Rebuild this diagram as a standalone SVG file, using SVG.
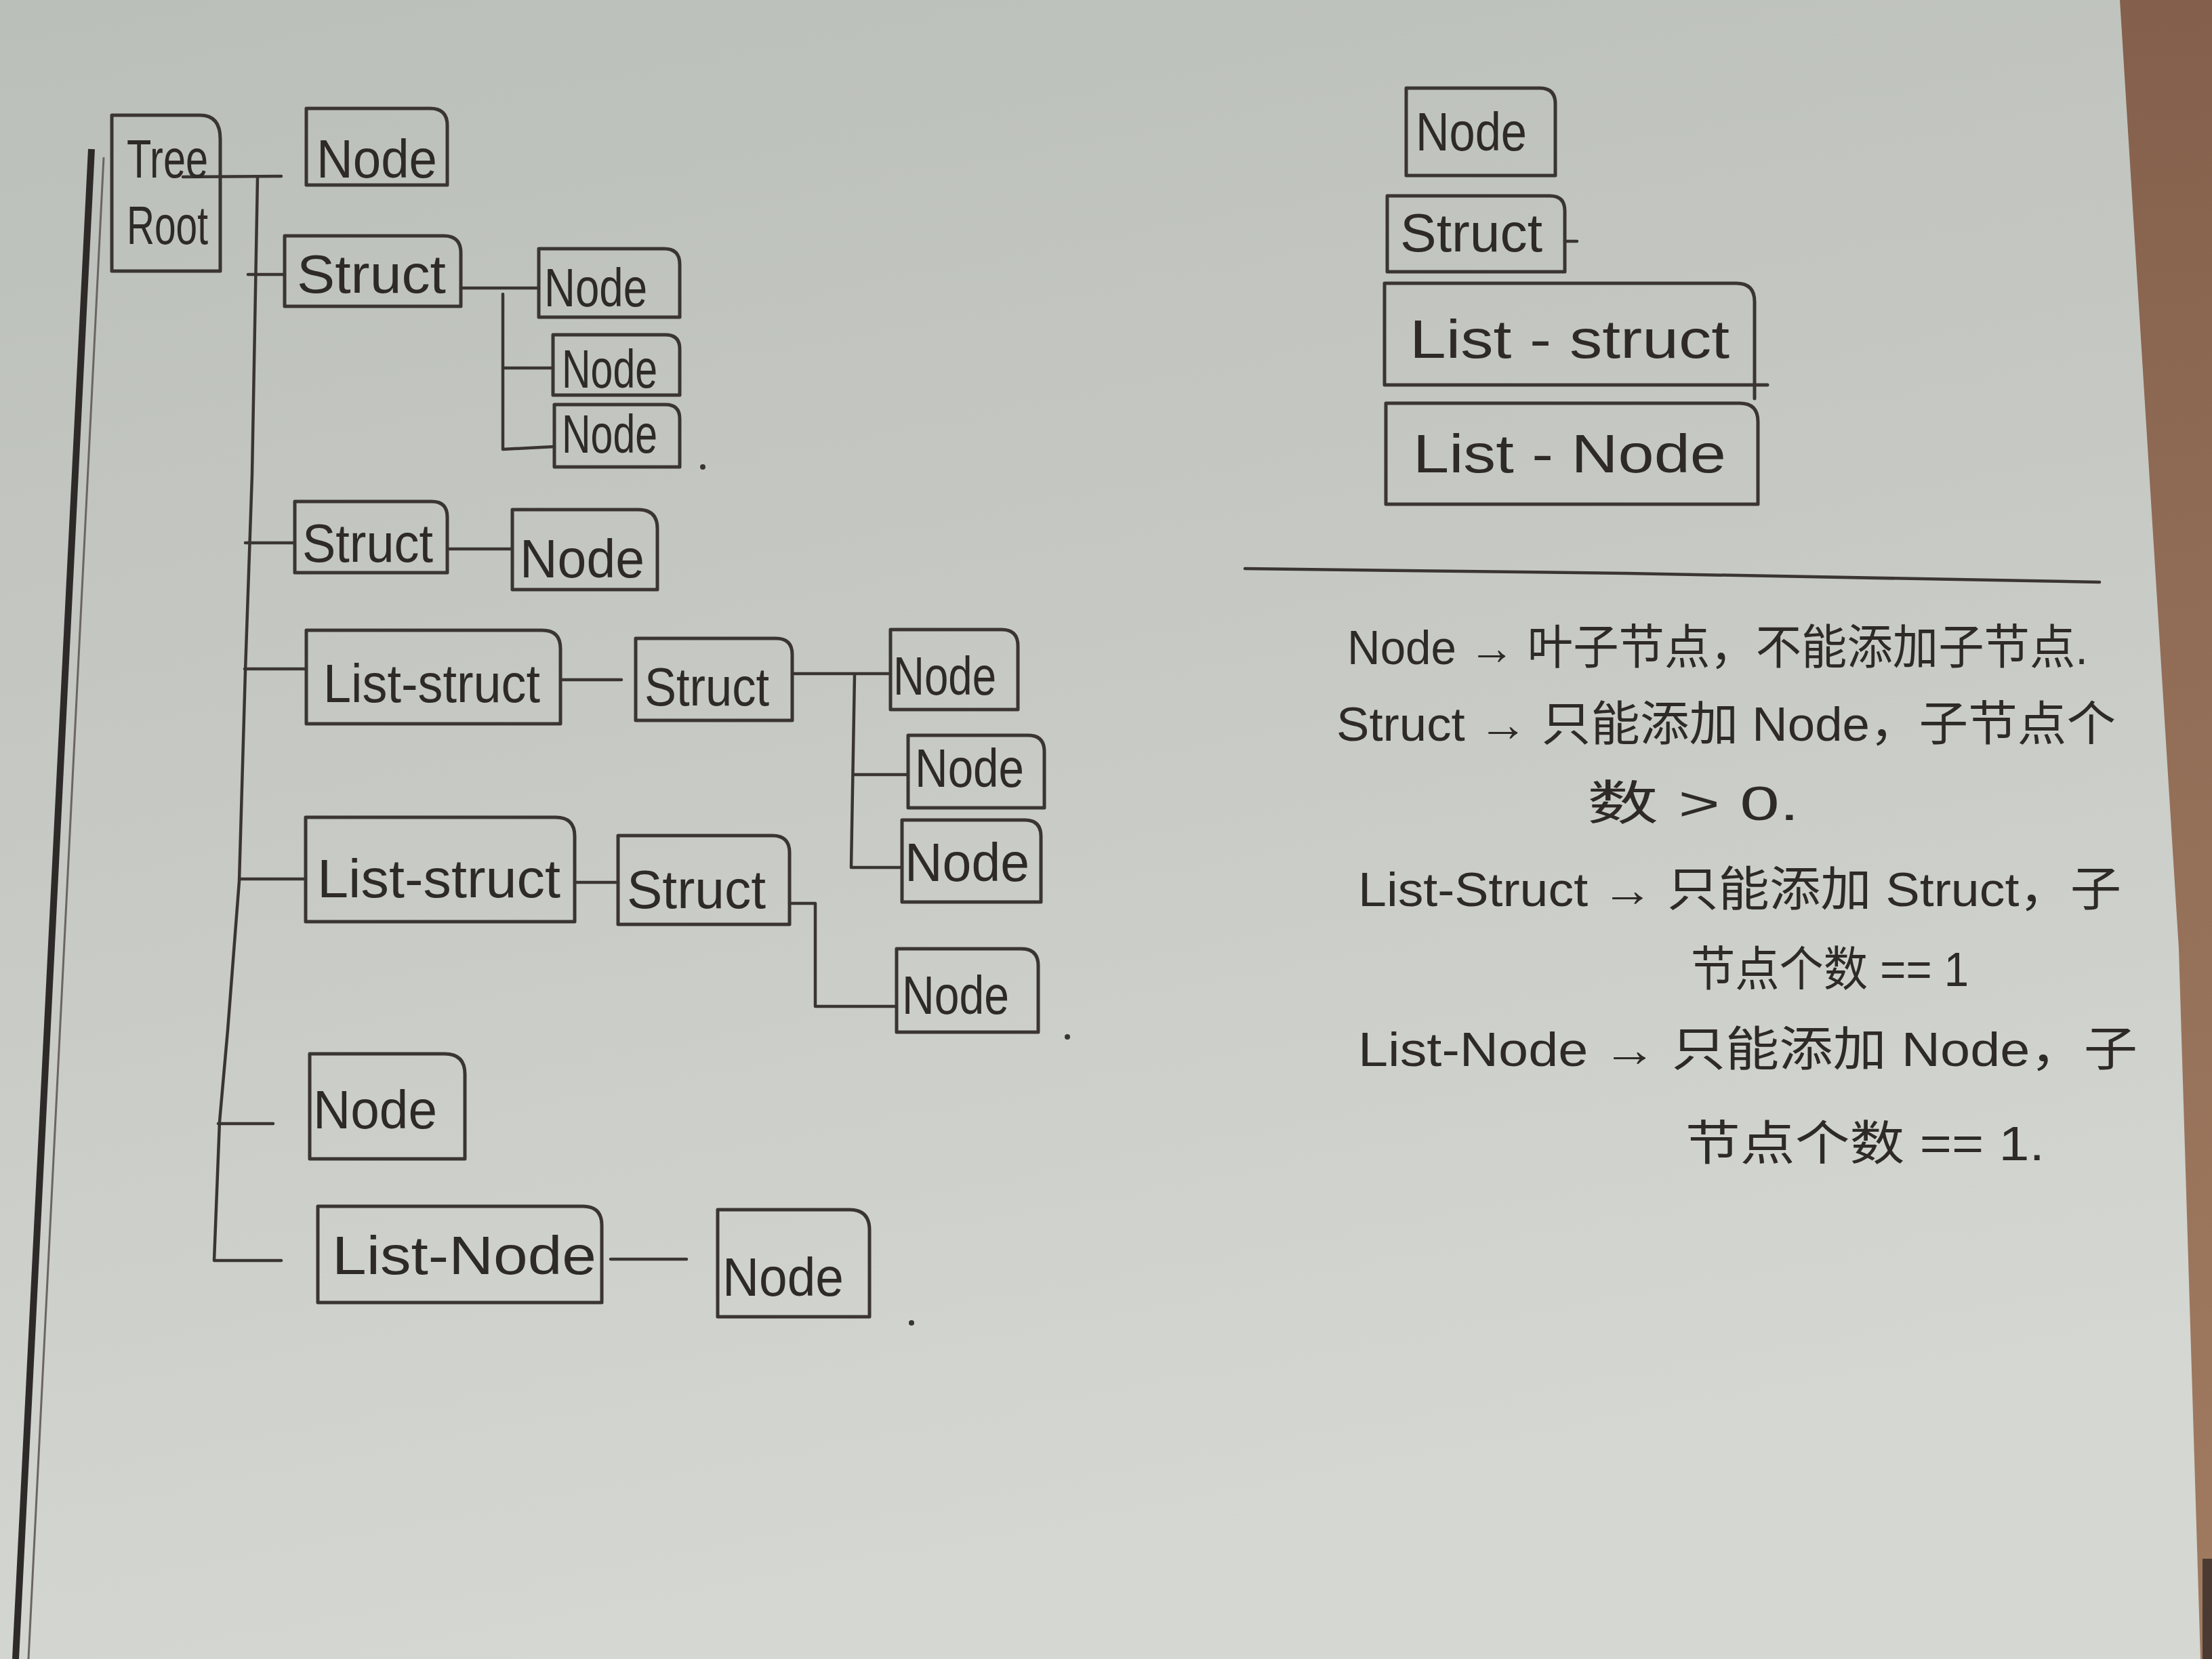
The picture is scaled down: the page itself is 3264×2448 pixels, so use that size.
<svg xmlns="http://www.w3.org/2000/svg" width="3264" height="2448" viewBox="0 0 3264 2448">
<defs>
<linearGradient id="paper" x1="0" y1="0" x2="0.25" y2="1">
<stop offset="0" stop-color="#bbbfb9"/>
<stop offset="0.5" stop-color="#c6c9c4"/>
<stop offset="1" stop-color="#d4d7d2"/>
</linearGradient>
<linearGradient id="wood" x1="0" y1="0" x2="0" y2="1">
<stop offset="0" stop-color="#84604c"/>
<stop offset="0.5" stop-color="#957059"/>
<stop offset="1" stop-color="#a07b60"/>
</linearGradient>
<style>
.box{fill:none;stroke:#3a3533;stroke-width:5;stroke-linejoin:round;stroke-linecap:round}
.con{fill:none;stroke:#3a3533;stroke-width:4.5;stroke-linecap:round;stroke-linejoin:round}
.lbl{font-family:"Liberation Sans","Noto Sans CJK SC",sans-serif;font-size:80px;fill:#2e2a28}
.note{font-family:"Liberation Sans","Noto Sans CJK SC",sans-serif;font-size:70px;fill:#2e2a28}
</style>
</defs>
<rect x="0" y="0" width="3264" height="2448" fill="url(#paper)"/>
<polygon points="3128,0 3264,0 3264,2448 3247,2448 3215,1400" fill="url(#wood)"/>
<rect x="3250" y="2300" width="14" height="148" fill="#4a3a32"/>
<g id="margin">
<line x1="135" y1="220" x2="23" y2="2448" stroke="#2f2a2a" stroke-width="10"/>
<line x1="153" y1="232" x2="42" y2="2448" stroke="#6a6462" stroke-width="3"/>
</g>
<g id="connectors">
<path class="con" d="M270 261 L415 260"/>
<path class="con" d="M380 262 L372 700 L362 990 L353 1300 L336 1520 L324 1655 L316 1860 L415 1860"/>
<path class="con" d="M366 405 L420 405"/>
<path class="con" d="M362 801 L433 801"/>
<path class="con" d="M361 987 L452 987"/>
<path class="con" d="M353 1297 L451 1297"/>
<path class="con" d="M322 1658 L403 1658"/>
<path class="con" d="M680 425 L795 425"/>
<path class="con" d="M742 434 L742 663 L818 659"/>
<path class="con" d="M742 543 L816 543"/>
<path class="con" d="M660 810 L756 810"/>
<path class="con" d="M827 1003 L917 1003"/>
<path class="con" d="M1169 994 L1314 994"/>
<path class="con" d="M1261 996 L1256 1280 L1331 1280"/>
<path class="con" d="M1261 1143 L1340 1143"/>
<path class="con" d="M848 1302 L912 1302"/>
<path class="con" d="M1165 1333 L1203 1333 L1203 1485 L1323 1485"/>
<path class="con" d="M901 1858 L1013 1858"/>
<path class="con" d="M2309 356 L2327 356"/>
<path class="con" d="M1837 839 L2400 846 L3098 859"/>
<circle cx="1037" cy="689" r="4" fill="#3a3533"/>
<circle cx="1575" cy="1530" r="4" fill="#3a3533"/>
<circle cx="1345" cy="1952" r="4" fill="#3a3533"/>
</g>
<g id="root">
<path class="box" d="M165 170 H295 Q325 170 325 205 V400 H165 Z"/>
<text class="lbl" x="187" y="262" textLength="120" lengthAdjust="spacingAndGlyphs" font-size="70">Tree</text>
<text class="lbl" x="187" y="360" textLength="120" lengthAdjust="spacingAndGlyphs" font-size="70">Root</text>
</g>
<g id="n1">
<path class="box" d="M452 160 H635 Q660 160 660 185 V273 H452 Z"/>
<text class="lbl" x="467" y="262" textLength="178" lengthAdjust="spacingAndGlyphs">Node</text>
</g>
<g id="s1">
<path class="box" d="M420 348 H655 Q680 348 680 373 V452 H420 Z"/>
<text class="lbl" x="438" y="432" textLength="220" lengthAdjust="spacingAndGlyphs">Struct</text>
</g>
<g id="n1a">
<path class="box" d="M795 367 H980 Q1003 367 1003 390 V468 H795 Z"/>
<text class="lbl" x="803" y="452" textLength="152" lengthAdjust="spacingAndGlyphs">Node</text>
</g>
<g id="n1b">
<path class="box" d="M816 494 H982 Q1003 494 1003 515 V583 H816 Z"/>
<text class="lbl" x="829" y="572" textLength="141" lengthAdjust="spacingAndGlyphs" font-size="72">Node</text>
</g>
<g id="n1c">
<path class="box" d="M818 597 H982 Q1003 597 1003 618 V689 H818 Z"/>
<text class="lbl" x="829" y="668" textLength="141" lengthAdjust="spacingAndGlyphs" font-size="72">Node</text>
</g>
<g id="s2">
<path class="box" d="M435 740 H637 Q660 740 660 763 V845 H435 Z"/>
<text class="lbl" x="446" y="829" textLength="193" lengthAdjust="spacingAndGlyphs">Struct</text>
</g>
<g id="n2">
<path class="box" d="M756 752 H942 Q970 752 970 780 V870 H756 Z"/>
<text class="lbl" x="767" y="852" textLength="184" lengthAdjust="spacingAndGlyphs" font-size="88">Node</text>
</g>
<g id="ls1">
<path class="box" d="M452 930 H800 Q827 930 827 957 V1068 H452 Z"/>
<text class="lbl" x="477" y="1036" textLength="320" lengthAdjust="spacingAndGlyphs">List-struct</text>
</g>
<g id="s3">
<path class="box" d="M938 942 H1145 Q1169 942 1169 966 V1063 H938 Z"/>
<text class="lbl" x="951" y="1041" textLength="184" lengthAdjust="spacingAndGlyphs">Struct</text>
</g>
<g id="n3a">
<path class="box" d="M1314 929 H1478 Q1502 929 1502 953 V1047 H1314 Z"/>
<text class="lbl" x="1318" y="1025" textLength="152" lengthAdjust="spacingAndGlyphs">Node</text>
</g>
<g id="n3b">
<path class="box" d="M1340 1085 H1517 Q1541 1085 1541 1109 V1192 H1340 Z"/>
<text class="lbl" x="1350" y="1161" textLength="161" lengthAdjust="spacingAndGlyphs">Node</text>
</g>
<g id="n3c">
<path class="box" d="M1331 1210 H1512 Q1536 1210 1536 1234 V1331 H1331 Z"/>
<text class="lbl" x="1335" y="1300" textLength="184" lengthAdjust="spacingAndGlyphs">Node</text>
</g>
<g id="ls2">
<path class="box" d="M451 1206 H820 Q848 1206 848 1234 V1360 H451 Z"/>
<text class="lbl" x="468" y="1324" textLength="359" lengthAdjust="spacingAndGlyphs" font-size="88">List-struct</text>
</g>
<g id="s4">
<path class="box" d="M912 1233 H1140 Q1165 1233 1165 1258 V1364 H912 Z"/>
<text class="lbl" x="925" y="1340" textLength="205" lengthAdjust="spacingAndGlyphs">Struct</text>
</g>
<g id="n4">
<path class="box" d="M1323 1400 H1507 Q1532 1400 1532 1425 V1523 H1323 Z"/>
<text class="lbl" x="1331" y="1496" textLength="158" lengthAdjust="spacingAndGlyphs">Node</text>
</g>
<g id="n5">
<path class="box" d="M457 1555 H656 Q686 1555 686 1585 V1710 H457 Z"/>
<text class="lbl" x="462" y="1665" textLength="183" lengthAdjust="spacingAndGlyphs" font-size="90">Node</text>
</g>
<g id="ln">
<path class="box" d="M469 1780 H860 Q888 1780 888 1808 V1922 H469 Z"/>
<text class="lbl" x="490" y="1880" textLength="390" lengthAdjust="spacingAndGlyphs" font-size="90">List-Node</text>
</g>
<g id="n6">
<path class="box" d="M1059 1785 H1253 Q1283 1785 1283 1815 V1943 H1059 Z"/>
<text class="lbl" x="1066" y="1912" textLength="179" lengthAdjust="spacingAndGlyphs" font-size="90">Node</text>
</g>
<g id="legend-node">
<path class="box" d="M2075 130 H2272 Q2295 130 2295 153 V259 H2075 Z"/>
<text class="lbl" x="2089" y="222" textLength="164" lengthAdjust="spacingAndGlyphs">Node</text>
</g>
<g id="legend-struct">
<path class="box" d="M2047 289 H2287 Q2309 289 2309 311 V401 H2047 Z"/>
<text class="lbl" x="2066" y="371" textLength="210" lengthAdjust="spacingAndGlyphs">Struct</text>
</g>
<g id="legend-list-struct">
<path class="box" d="M2043 418 H2562 Q2589 418 2589 445 V588 M2608 568 H2043 V418"/>
<text class="lbl" x="2080" y="528" textLength="472" lengthAdjust="spacingAndGlyphs" font-size="92">List - struct</text>
</g>
<g id="legend-list-node">
<path class="box" d="M2045 595 H2567 Q2594 595 2594 622 V744 H2045 Z"/>
<text class="lbl" x="2085" y="697" textLength="462" lengthAdjust="spacingAndGlyphs" font-size="92">List - Node</text>
</g>
<g id="notes">
<text class="note" x="1988" y="980" textLength="1093" lengthAdjust="spacingAndGlyphs">Node → 叶子节点，不能添加子节点.</text>
<text class="note" x="1972" y="1093" textLength="1150" lengthAdjust="spacingAndGlyphs">Struct → 只能添加 Node，子节点个</text>
<text class="note" x="2342" y="1210" textLength="313" lengthAdjust="spacingAndGlyphs">数 &gt; 0.</text>
<text class="note" x="2004" y="1337" textLength="1126" lengthAdjust="spacingAndGlyphs">List-Struct → 只能添加 Struct，子</text>
<text class="note" x="2495" y="1455" textLength="410" lengthAdjust="spacingAndGlyphs">节点个数 == 1</text>
<text class="note" x="2004" y="1573" textLength="1150" lengthAdjust="spacingAndGlyphs">List-Node → 只能添加 Node，子</text>
<text class="note" x="2487" y="1712" textLength="530" lengthAdjust="spacingAndGlyphs">节点个数 == 1.</text>
</g>
</svg>
